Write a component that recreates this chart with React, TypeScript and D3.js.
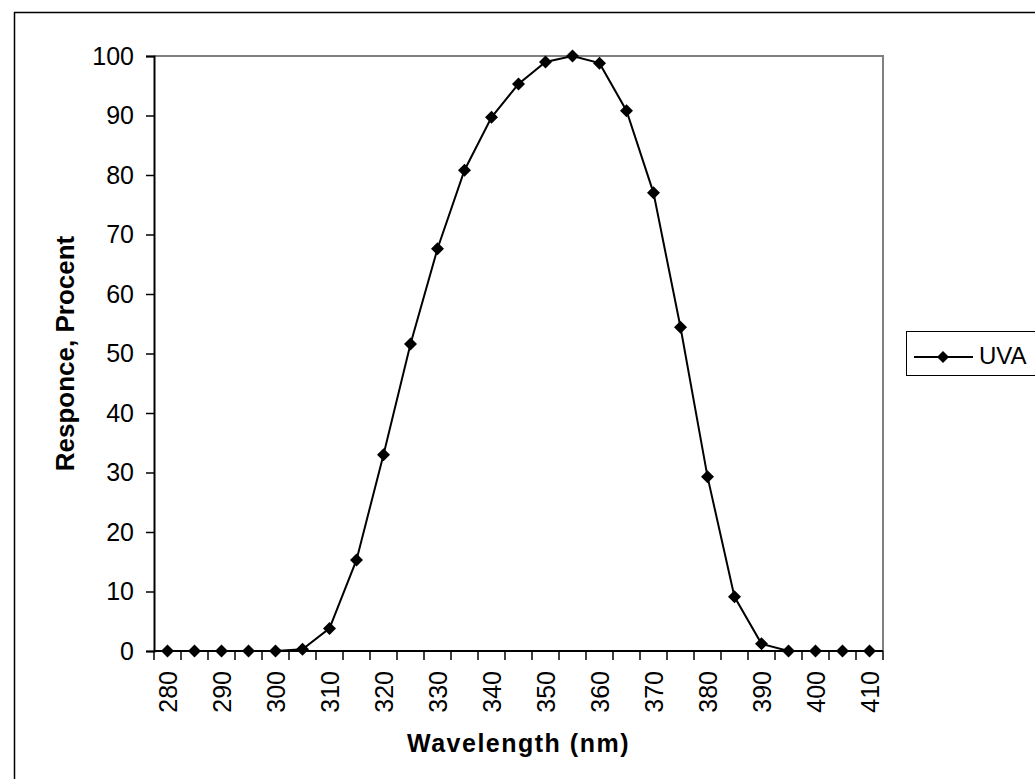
import React, { useEffect, useRef } from "react";
import * as d3 from "d3";

// wavelength categories (nm) and response in percent
const wavelengths: number[] = [
  280, 285, 290, 295, 300, 305, 310, 315, 320, 325, 330, 335, 340, 345, 350,
  355, 360, 365, 370, 375, 380, 385, 390, 395, 400, 405, 410,
];
const uvaResponse: number[] = [
  0, 0, 0, 0, 0, 0.3, 3.8, 15.3, 33, 51.6, 67.6, 80.8, 89.7, 95.3, 99, 100,
  98.8, 90.8, 77, 54.4, 29.3, 9.1, 1.2, 0, 0, 0, 0,
];
const yTicks: number[] = [0, 10, 20, 30, 40, 50, 60, 70, 80, 90, 100];
const xTickLabels: number[] = [
  280, 290, 300, 310, 320, 330, 340, 350, 360, 370, 380, 390, 400, 410,
];
const seriesName = "UVA";

const W = 1035;
const H = 779;
const FONT = "Arial, 'Liberation Sans', sans-serif";

// Excel style diamond marker
const diamondPath = (r: number) => `M0,${-r}L${r},0L0,${r}L${-r},0Z`;

const App = () => {
  const ref = useRef<SVGSVGElement>(null);

  useEffect(() => {
    draw();
  }, []);

  const draw = () => {
    const svg = d3.select(ref.current);
    svg.selectAll("*").remove();

    const left = 154;
    const right = 883;
    const top = 56;
    const bottom = 651;

    // outer chart border (right and bottom edges fall outside the picture)
    svg
      .append("rect")
      .attr("x", 14.5)
      .attr("y", 12.5)
      .attr("width", 1200)
      .attr("height", 900)
      .attr("fill", "white")
      .attr("stroke", "black")
      .attr("stroke-width", 1.5);

    const x = d3
      .scaleBand<number>()
      .domain(wavelengths)
      .range([left, right])
      .paddingInner(0)
      .paddingOuter(0);
    const y = d3.scaleLinear().domain([0, 100]).range([bottom, top]);

    // plot area border
    svg
      .append("path")
      .attr("d", `M${left},${top}H${right}V${bottom}`)
      .attr("fill", "none")
      .attr("stroke", "#808080")
      .attr("stroke-width", 2);

    // Y axis
    const yAxis = svg
      .append("g")
      .attr("transform", `translate(${left},0)`)
      .call(d3.axisLeft(y).tickValues(yTicks).tickSize(8).tickPadding(12));
    yAxis.select(".domain").attr("stroke", "black").attr("stroke-width", 2);
    yAxis.selectAll(".tick line").attr("stroke", "black").attr("stroke-width", 1.5);
    yAxis
      .selectAll(".tick text")
      .attr("font-family", FONT)
      .attr("font-size", 25)
      .attr("fill", "black");

    // X axis: ticks at category boundaries
    const boundaries = wavelengths.map((w) => x(w) as number).concat([right]);
    svg
      .append("line")
      .attr("x1", left)
      .attr("x2", right)
      .attr("y1", bottom)
      .attr("y2", bottom)
      .attr("stroke", "black")
      .attr("stroke-width", 2);
    svg
      .append("g")
      .selectAll("line")
      .data(boundaries)
      .enter()
      .append("line")
      .attr("x1", (d) => d)
      .attr("x2", (d) => d)
      .attr("y1", bottom)
      .attr("y2", bottom + 9)
      .attr("stroke", "black")
      .attr("stroke-width", 1.5);

    const cx = (w: number) => (x(w) as number) + x.bandwidth() / 2;

    svg
      .append("g")
      .selectAll("text")
      .data(xTickLabels)
      .enter()
      .append("text")
      .attr("transform", (d) => `translate(${cx(d)},${bottom + 20}) rotate(-90)`)
      .attr("text-anchor", "end")
      .attr("dominant-baseline", "central")
      .attr("font-family", FONT)
      .attr("font-size", 25)
      .text((d) => d);

    // axis titles
    svg
      .append("text")
      .attr("x", (left + right) / 2)
      .attr("y", 752)
      .attr("text-anchor", "middle")
      .attr("font-family", FONT)
      .attr("font-size", 25)
      .attr("font-weight", "bold")
      .attr("letter-spacing", 1.5)
      .text("Wavelength (nm)");

    svg
      .append("text")
      .attr("transform", `translate(74,${(top + bottom) / 2}) rotate(-90)`)
      .attr("text-anchor", "middle")
      .attr("font-family", FONT)
      .attr("font-size", 26)
      .attr("font-weight", "bold")
      .text("Responce, Procent");

    // series line
    const line = d3
      .line<number>()
      .x((_, i) => cx(wavelengths[i]))
      .y((d) => y(d));
    svg
      .append("path")
      .datum(uvaResponse)
      .attr("d", line)
      .attr("fill", "none")
      .attr("stroke", "black")
      .attr("stroke-width", 2);

    svg
      .append("g")
      .selectAll("path")
      .data(uvaResponse)
      .enter()
      .append("path")
      .attr("d", diamondPath(6.5))
      .attr("transform", (d, i) => `translate(${cx(wavelengths[i])},${y(d)})`)
      .attr("fill", "black");

    // legend
    const lg = svg.append("g");
    lg.append("rect")
      .attr("x", 906.5)
      .attr("y", 331.5)
      .attr("width", 200)
      .attr("height", 44)
      .attr("fill", "white")
      .attr("stroke", "black")
      .attr("stroke-width", 1);
    lg.append("line")
      .attr("x1", 914)
      .attr("x2", 973)
      .attr("y1", 357)
      .attr("y2", 357)
      .attr("stroke", "black")
      .attr("stroke-width", 2);
    lg.append("path")
      .attr("d", diamondPath(6))
      .attr("transform", "translate(943,357)")
      .attr("fill", "black");
    lg.append("text")
      .attr("x", 979)
      .attr("y", 364)
      .attr("font-family", FONT)
      .attr("font-size", 24)
      .text(seriesName);
  };

  return (
    <svg
      ref={ref}
      width={W}
      height={H}
      style={{ position: "absolute", left: 0, top: 0, background: "white" }}
    />
  );
};

export default App;
